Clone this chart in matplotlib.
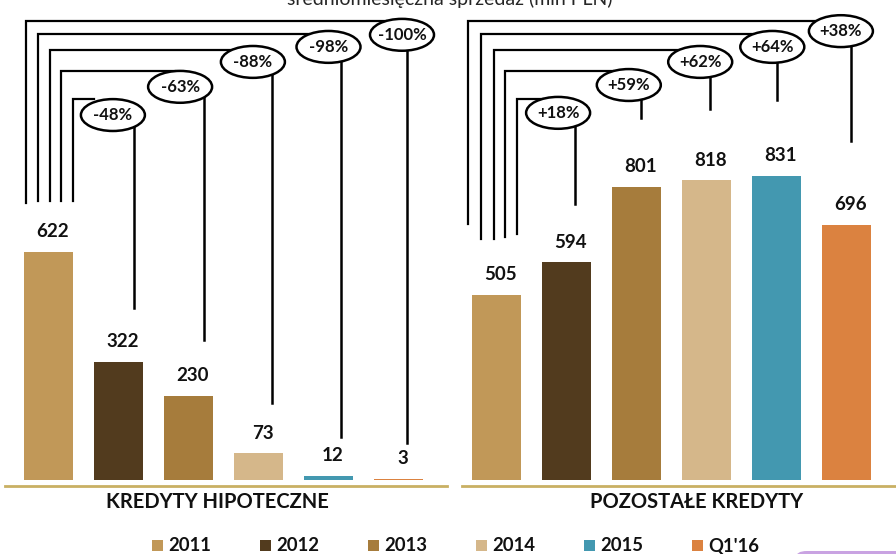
import matplotlib
matplotlib.use("Agg")
import matplotlib.pyplot as plt
from matplotlib.patches import Ellipse, Rectangle, FancyBboxPatch
import numpy as np

plt.rcParams['font.family'] = ['Lato', 'DejaVu Sans']

# ---------------- data ----------------
years = ['2011', '2012', '2013', '2014', '2015', "Q1'16"]
mortgage = [622, 322, 230, 73, 12, 3]
other = [505, 594, 801, 818, 831, 696]
mortgage_chg = ['-48%', '-63%', '-88%', '-98%', '-100%']
other_chg = ['+18%', '+59%', '+62%', '+64%', '+38%']
colors = ['#C19858', '#523B1E', '#A67C3C', '#D5B78A', '#4398B0', '#DB8240']
panel_titles = ['KREDYTY HIPOTECZNE', 'POZOSTAŁE KREDYTY']
title = 'średniomiesięczna sprzedaż (mln PLN)'

# ------------- layout of bracket annotations (offsets relative to bars) -------------
left_layout = dict(
    start_dx=[0.35, 0.18, 0.02, -0.15, -0.32],
    start_pad=[139, 139, 139, 139, 134],
    top=[1040, 1116, 1174, 1217, 1253],
    end_dx=[0.22, 0.22, 0.19, 0.18, 0.12],
    end_pad=[147, 152, 137, 105, 98],
    ell_dx=[-0.08, -0.12, -0.08, 0.0, 0.05],
    ell_y=[996, 1073, 1141, 1182, 1215],
)
right_layout = dict(
    start_dx=[0.29, 0.12, -0.04, -0.22, -0.41],
    start_pad=[166, 158, 153, 153, 194],
    top=[1040, 1116, 1174, 1217, 1253],
    end_dx=[0.12, 0.07, 0.05, 0.0, 0.06],
    end_pad=[159, 188, 195, 206, 229],
    ell_dx=[-0.12, -0.11, -0.09, -0.06, -0.08],
    ell_y=[1002, 1078, 1141, 1182, 1225],
)

W, H = 896, 554
fig = plt.figure(figsize=(W / 100, H / 100), dpi=100)


def px_axes(x0, y0, x1, y1):
    return fig.add_axes([x0 / W, 1 - y1 / H, (x1 - x0) / W, (y1 - y0) / H])


PX_PER_UNIT_X = 70.0
YMIN, YMAX = -16.4, 1310
ELL_W, ELL_H = 64 / PX_PER_UNIT_X, 87.0
GOLD = '#C9B063'


def draw_panel(ax, values, changes, lay, xleft_px, xright_px, center0_px):
    xs = np.arange(len(values))
    ax.bar(xs, values, width=0.7, color=colors, edgecolor='none')
    ax.set_xlim((xleft_px - center0_px) / PX_PER_UNIT_X,
                (xright_px - center0_px) / PX_PER_UNIT_X)
    ax.set_ylim(YMIN, YMAX)
    for s in ['top', 'left', 'right']:
        ax.spines[s].set_visible(False)
    ax.spines['bottom'].set_color(GOLD)
    ax.spines['bottom'].set_linewidth(2.0)
    ax.set_xticks([])
    ax.set_yticks([])
    ax.patch.set_alpha(0)
    for x, v in zip(xs, values):
        ax.annotate(f'{v}', (x, v), xytext=(3, 14.5), textcoords='offset points',
                    ha='center', va='center', fontsize=13.5, fontweight='bold',
                    color='#111111')
    a, b = ELL_W / 2, ELL_H / 2
    for k, lab in enumerate(changes):
        i = k + 1
        xs0 = 0 + lay['start_dx'][k]
        yb0 = values[0] + lay['start_pad'][k]
        top = lay['top'][k]
        ex = i + lay['ell_dx'][k]
        ey = lay['ell_y'][k]
        xr = i + lay['end_dx'][k]
        ybr = values[i] + lay['end_pad'][k]
        dy = (top - ey) / b
        hx = ex - a * np.sqrt(max(0.0, 1 - dy ** 2)) if abs(dy) < 1 else ex - 0.6 * a
        dx = (xr - ex) / a
        vy = ey - b * np.sqrt(max(0.0, 1 - dx ** 2))
        ax.plot([xs0, xs0, hx], [yb0, top, top], color='black', lw=1.6,
                solid_joinstyle='miter', clip_on=False)
        ax.plot([xr, xr], [vy, ybr], color='black', lw=1.8, clip_on=False)
        ax.add_patch(Ellipse((ex, ey), ELL_W, ELL_H, facecolor='white',
                             edgecolor='black', lw=1.8, clip_on=False, zorder=3))
        ax.text(ex, ey, lab, ha='center', va='center', fontsize=12,
                fontweight='bold', color='#111111', zorder=4)


axL = px_axes(5, 0, 447, 486)
draw_panel(axL, mortgage, mortgage_chg, left_layout, 5, 447, 48.5)
axR = px_axes(462, 0, 896, 486)
draw_panel(axR, other, other_chg, right_layout, 462, 896, 496.5)

# panel titles
fig.text(217 / W, 1 - 502 / H, panel_titles[0], ha='center', va='center',
         fontsize=14.5, fontweight='bold', color='#111111')
fig.text(697 / W, 1 - 502 / H, panel_titles[1], ha='center', va='center',
         fontsize=14.5, fontweight='bold', color='#111111')

# top title (cut off at top edge, as in the reference)
fig.text(450 / W, 1 - 5 / H, title, ha='center', va='baseline', fontsize=14,
         color='#262626')

# legend
for i, (lab, c) in enumerate(zip(years, colors)):
    x0 = 151.7 + 108.1 * i
    fig.patches.append(Rectangle((x0 / W, 1 - 551 / H), 11 / W, 11 / H,
                                 transform=fig.transFigure, facecolor=c,
                                 edgecolor='none'))
    fig.text((x0 + 16.5) / W, 1 - 545.5 / H, lab, ha='left', va='center',
             fontsize=13.3, fontweight='bold', color='#111111')

# decorative purple shape at bottom right
fig.patches.append(FancyBboxPatch((796 / W, 1 - 575 / H), 130 / W, 24 / H,
                                  boxstyle='round,pad=0,rounding_size=0.012',
                                  transform=fig.transFigure, facecolor='#C9A3E2',
                                  edgecolor='none'))

fig.savefig('out.png', dpi=100)
